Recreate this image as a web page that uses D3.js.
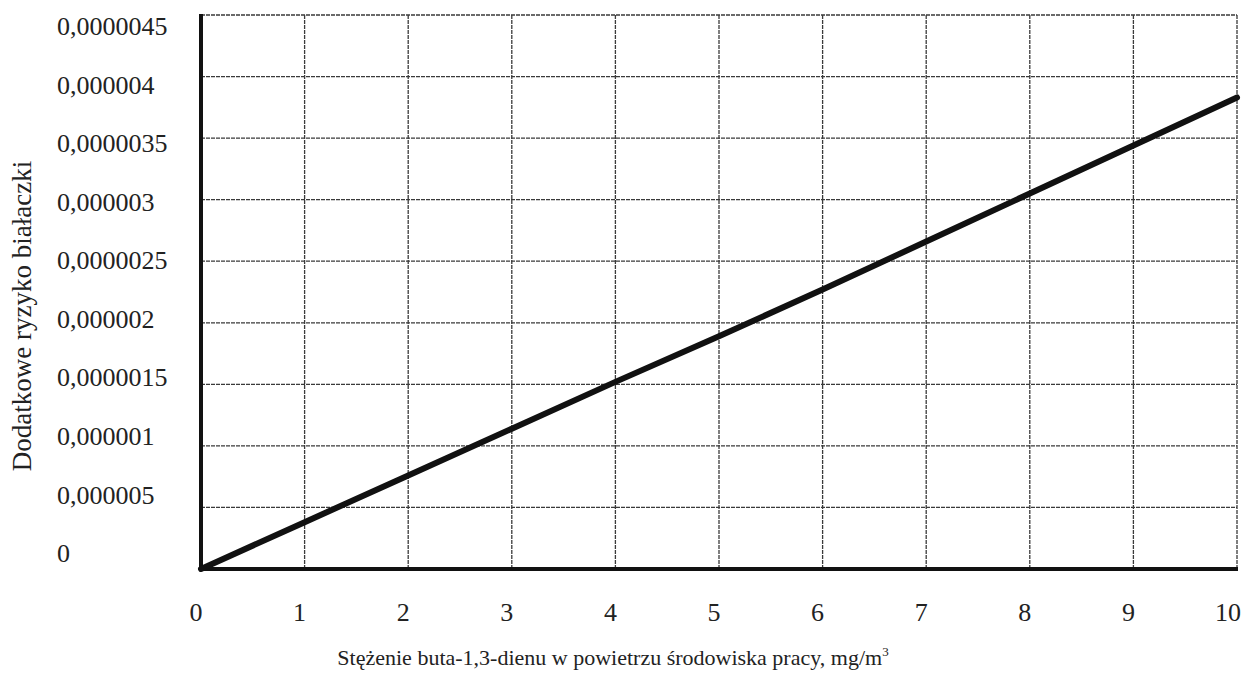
<!DOCTYPE html>
<html>
<head>
<meta charset="utf-8">
<script src="https://cdn.jsdelivr.net/npm/d3@7"></script>
<style>
    body { margin: 0; background: #fff; }
</style>
</head>
<body>
<svg id="chart" width="1243" height="684"></svg>
<script>
/* global d3 */

// concentration, mg/m3
var stezenie = [0, 1, 2, 3, 4, 5, 6, 7, 8, 9, 10];
// additional leukaemia risk
var ryzyko = [0, 3.8e-7, 7.6e-7, 1.14e-6, 1.52e-6, 1.89e-6, 2.27e-6, 2.66e-6, 3.05e-6, 3.44e-6, 3.83e-6];

var xTicks = [0, 1, 2, 3, 4, 5, 6, 7, 8, 9, 10];
var yTicks = [0, 5e-7, 1e-6, 1.5e-6, 2e-6, 2.5e-6, 3e-6, 3.5e-6, 4e-6, 4.5e-6];
// labels as printed in the source (including its typo at 5e-7)
var yLabels = ["0", "0,000005", "0,000001", "0,0000015", "0,000002", "0,0000025",
    "0,000003", "0,0000035", "0,000004", "0,0000045"];

var FONT = "'Liberation Serif', 'Times New Roman', serif";

var svg = d3.select("#chart");

var x = d3.scaleLinear().domain([0, 10]).range([201, 1237]);
var y = d3.scaleLinear().domain([0, 4.5e-6]).range([569, 15]);
// the printed labels sit on a slightly tighter spacing than the grid
var yLab = d3.scaleLinear().domain([0, 4.5e-6]).range([553, 26]);

var grid = svg.append("g").attr("stroke", "#3a3a3a").attr("stroke-width", 1.3)
    .attr("stroke-dasharray", "4,1");

grid.selectAll(".hg").data(yTicks.slice(1))
    .enter().append("line")
    .attr("x1", x(0)).attr("x2", x(10))
    .attr("y1", function (d) { return y(d); })
    .attr("y2", function (d) { return y(d); });

grid.selectAll(".vg").data(xTicks.slice(1))
    .enter().append("line")
    .attr("y1", y(0)).attr("y2", y(4.5e-6))
    .attr("x1", function (d) { return x(d); })
    .attr("x2", function (d) { return x(d); });

// thick axes
svg.append("line").attr("x1", x(0)).attr("x2", x(0))
    .attr("y1", y(4.5e-6) - 1).attr("y2", y(0) + 2)
    .attr("stroke", "#111").attr("stroke-width", 4);
svg.append("line").attr("x1", x(0) - 2).attr("x2", x(10) + 1)
    .attr("y1", y(0)).attr("y2", y(0))
    .attr("stroke", "#111").attr("stroke-width", 4);

// the series
var line = d3.line()
    .x(function (d, i) { return x(stezenie[i]); })
    .y(function (d) { return y(d); });

svg.append("path")
    .datum(ryzyko)
    .attr("d", line)
    .attr("fill", "none")
    .attr("stroke", "#111")
    .attr("stroke-width", 6)
    .attr("stroke-linecap", "round");

// y tick labels
svg.selectAll(".ylab").data(yTicks)
    .enter().append("text")
    .attr("x", 57)
    .attr("y", function (d) { return yLab(d); })
    .attr("dy", "0.35em")
    .attr("font-size", 26)
    .attr("fill", "#222")
    .style("font-family", FONT)
    .text(function (d, i) { return yLabels[i]; });

// x tick labels
svg.selectAll(".xlab").data(xTicks)
    .enter().append("text")
    .attr("x", function (d) { return x(d) - (d === 10 ? 9 : 5); })
    .attr("y", 612)
    .attr("dy", "0.35em")
    .attr("text-anchor", "middle")
    .attr("font-size", 26)
    .attr("fill", "#222")
    .style("font-family", FONT)
    .text(function (d) { return d; });

// axis titles
var xt = svg.append("text")
    .attr("x", 613).attr("y", 665)
    .attr("text-anchor", "middle")
    .attr("font-size", 22)
    .attr("fill", "#222")
    .style("font-family", FONT);
xt.append("tspan").text("Stężenie buta-1,3-dienu w powietrzu środowiska pracy, mg/m");
xt.append("tspan").attr("dy", -9).attr("font-size", 13).text("3");

svg.append("text")
    .attr("transform", "translate(31,316) rotate(-90)")
    .attr("text-anchor", "middle")
    .attr("font-size", 27)
    .attr("fill", "#222")
    .style("font-family", FONT)
    .text("Dodatkowe ryzyko białaczki");
</script>
</body>
</html>
